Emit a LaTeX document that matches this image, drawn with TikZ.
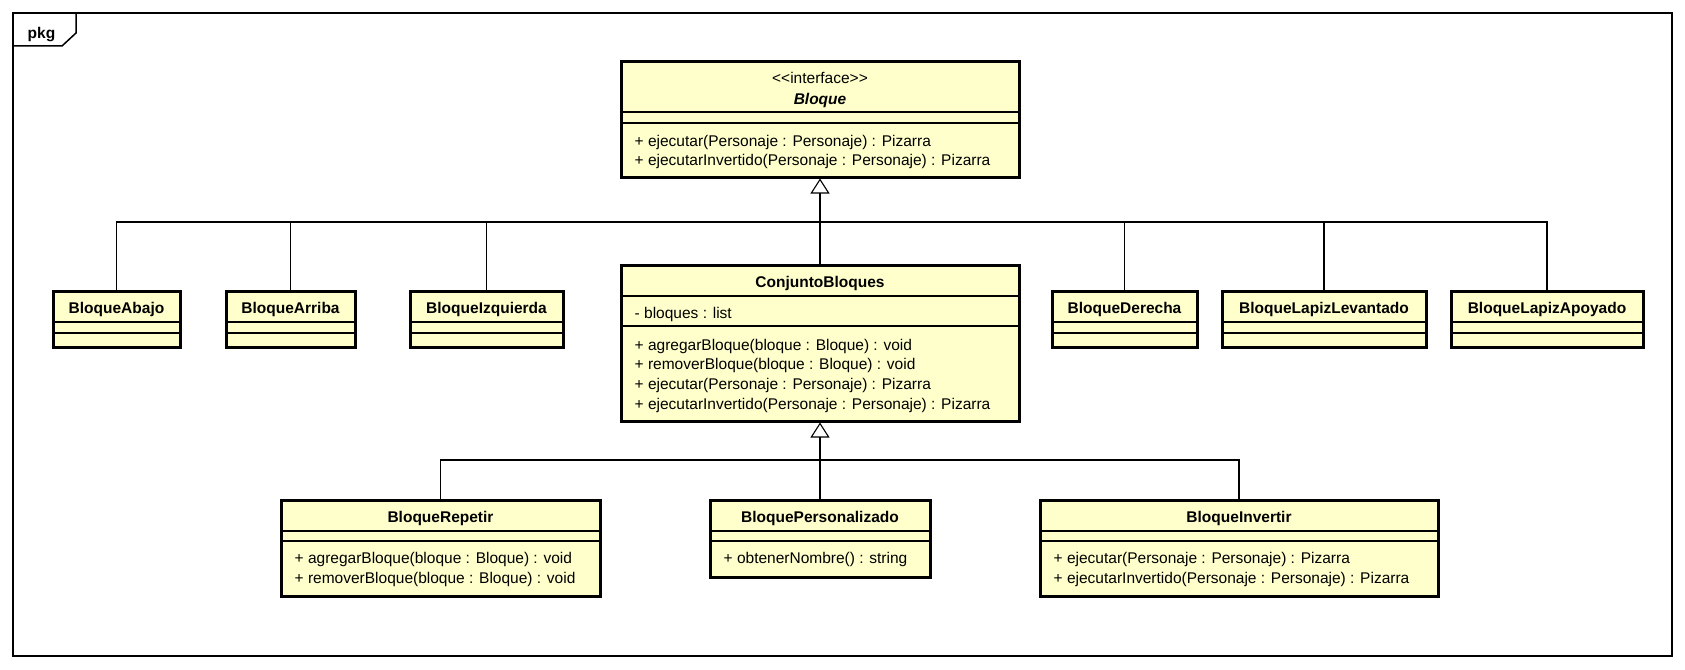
\documentclass[tikz,border=0pt]{standalone}
\usepackage{fontspec}
\setmainfont{Liberation Sans}
\usetikzlibrary{arrows.meta,fit}
\definecolor{classfill}{HTML}{FFFFCC}
\begin{document}
\begin{tikzpicture}[x=1pt,y=-1pt,
  every node/.style={font=\fontsize{15.5}{19.7}\selectfont},
  classbox/.style={draw=black, line width=3pt, fill=classfill, inner sep=0pt, outer sep=1.5pt},
  frame/.style={draw=black, line width=1.5pt, inner sep=0pt, outer sep=0pt},
  sepline/.style={line width=1.2pt},
  title/.style={font=\fontsize{15.5}{19.7}\selectfont\bfseries, anchor=base, inner sep=0pt},
  member/.style={anchor=base west, inner sep=0pt},
  conn/.style={line width=1.1pt},
  inherit/.style={conn, -{Triangle[open, length=15pt, width=19pt]}}
]
\useasboundingbox (0,0) rectangle (1685,669);

% package frame and its tab
\node[frame, fit={(13,13) (1672,656)}] (pkgframe) {};
\draw[line width=1.5pt] (13,46) -- (62,46) -- (76,33) -- (76,13);
\node[title] (pkglabel) at (41.5,38.3) {pkg};

% interface Bloque
\node[classbox, fit={(621,62) (1019,177)}] (bloque) {};
\draw[sepline] (621,112) -- (1019,112);
\draw[sepline] (621,123) -- (1019,123);
\node[anchor=base, inner sep=0pt] (bloque-st) at (820,83) {\textless{}\textless{}interface\textgreater{}\textgreater};
\node[title, font=\fontsize{15.5}{19.7}\selectfont\bfseries\itshape] (bloque-t) at (820,104) {Bloque};
\node[member] (bloque-m1) at (634.5,146) {+ ejecutar(Personaje : Personaje) : Pizarra};
\node[member] (bloque-m2) at (634.5,165.7) {+ ejecutarInvertido(Personaje : Personaje) : Pizarra};

% ConjuntoBloques
\node[classbox, fit={(621,265) (1019,421)}] (conj) {};
\draw[sepline] (621,296) -- (1019,296);
\draw[sepline] (621,326) -- (1019,326);
\node[title] (conj-t) at (820,287) {ConjuntoBloques};
\node[member] (conj-a1) at (634.5,318) {- bloques : list};
\node[member] (conj-m1) at (634.5,350) {+ agregarBloque(bloque : Bloque) : void};
\node[member] (conj-m2) at (634.5,369.7) {+ removerBloque(bloque : Bloque) : void};
\node[member] (conj-m3) at (634.5,389.4) {+ ejecutar(Personaje : Personaje) : Pizarra};
\node[member] (conj-m4) at (634.5,409.1) {+ ejecutarInvertido(Personaje : Personaje) : Pizarra};

% simple blocks on the middle row
\foreach \nm/\xa/\xb/\lbl in {abajo/53/180/BloqueAbajo, arriba/226/355/BloqueArriba,
    izq/410/563/BloqueIzquierda, derecha/1052/1197/BloqueDerecha,
    levantado/1222/1426/BloqueLapizLevantado, apoyado/1451/1643/BloqueLapizApoyado}{
  \node[classbox, fit={(\xa,291) (\xb,347)}] (\nm) {};
  \draw[sepline] (\xa,322) -- (\xb,322);
  \draw[sepline] (\xa,333) -- (\xb,333);
  \node[title] (\nm-t) at ({(\xa+\xb)/2},313) {\lbl};
}

% BloqueRepetir
\node[classbox, fit={(281,500) (600,596)}] (repetir) {};
\draw[sepline] (281,531) -- (600,531);
\draw[sepline] (281,541) -- (600,541);
\node[title] (repetir-t) at (440.5,522) {BloqueRepetir};
\node[member] (repetir-m1) at (294.5,563.5) {+ agregarBloque(bloque : Bloque) : void};
\node[member] (repetir-m2) at (294.5,583.2) {+ removerBloque(bloque : Bloque) : void};

% BloquePersonalizado
\node[classbox, fit={(710,500) (930,577)}] (personal) {};
\draw[sepline] (710,531) -- (930,531);
\draw[sepline] (710,541) -- (930,541);
\node[title] (personal-t) at (820,522) {BloquePersonalizado};
\node[member] (personal-m1) at (723.5,563.5) {+ obtenerNombre() : string};

% BloqueInvertir
\node[classbox, fit={(1040,500) (1438,596)}] (invertir) {};
\draw[sepline] (1040,531) -- (1438,531);
\draw[sepline] (1040,541) -- (1438,541);
\node[title] (invertir-t) at (1239,522) {BloqueInvertir};
\node[member] (invertir-m1) at (1053.5,563.5) {+ ejecutar(Personaje : Personaje) : Pizarra};
\node[member] (invertir-m2) at (1053.5,583.2) {+ ejecutarInvertido(Personaje : Personaje) : Pizarra};

% generalization to Bloque
\coordinate (hubA) at (820,222);
\draw[inherit] (hubA) -- (bloque.south);
\draw[conn] (conj.north) -- (hubA);
\foreach \nm in {abajo, arriba, izq, derecha, levantado, apoyado}
  \draw[conn] (\nm.north) |- (hubA);

% generalization to ConjuntoBloques
\coordinate (hubB) at (820,460);
\draw[inherit] (hubB) -- (conj.south);
\draw[conn] (personal.north) -- (hubB);
\draw[conn] (repetir.north) |- (hubB);
\draw[conn] (invertir.north) |- (hubB);
\end{tikzpicture}
\end{document}
